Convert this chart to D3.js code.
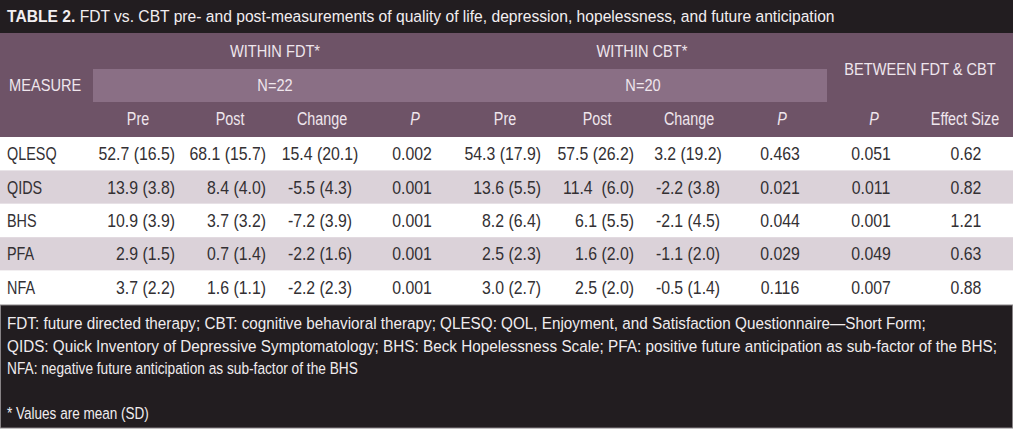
<!DOCTYPE html>
<html>
<head>
<meta charset="utf-8">
<script src="https://cdn.jsdelivr.net/npm/d3@7"></script>
<style>
  body { margin: 0; background: #ffffff; }
  svg text { font-family: "Liberation Sans", Arial, sans-serif; }
</style>
</head>
<body>
<div id="chart"></div>
<script>
var width = 1024, height = 432;

// table content
var title = "FDT vs. CBT pre- and post-measurements of quality of life, depression, hopelessness, and future anticipation";
var measures = ["QLESQ", "QIDS", "BHS", "PFA", "NFA"];
var fdtPre    = ["52.7 (16.5)", "13.9 (3.8)", "10.9 (3.9)", "2.9 (1.5)", "3.7 (2.2)"];
var fdtPost   = ["68.1 (15.7)", "8.4 (4.0)", "3.7 (3.2)", "0.7 (1.4)", "1.6 (1.1)"];
var fdtChange = ["15.4 (20.1)", "-5.5 (4.3)", "-7.2 (3.9)", "-2.2 (1.6)", "-2.2 (2.3)"];
var fdtP      = ["0.002", "0.001", "0.001", "0.001", "0.001"];
var cbtPre    = ["54.3 (17.9)", "13.6 (5.5)", "8.2 (6.4)", "2.5 (2.3)", "3.0 (2.7)"];
var cbtPost   = ["57.5 (26.2)", "11.4  (6.0)", "6.1 (5.5)", "1.6 (2.0)", "2.5 (2.0)"];
var cbtChange = ["3.2 (19.2)", "-2.2 (3.8)", "-2.1 (4.5)", "-1.1 (2.0)", "-0.5 (1.4)"];
var cbtP      = ["0.463", "0.021", "0.044", "0.029", "0.116"];
var betweenP  = ["0.051", "0.011", "0.001", "0.049", "0.007"];
var effectSize = ["0.62", "0.82", "1.21", "0.63", "0.88"];
var colLabels = ["Pre", "Post", "Change", "P", "Pre", "Post", "Change", "P", "P", "Effect Size"];
var footLines = [
    "FDT: future directed therapy; CBT: cognitive behavioral therapy; QLESQ: QOL, Enjoyment, and Satisfaction Questionnaire\u2014Short Form;",
    "QIDS: Quick Inventory of Depressive Symptomatology; BHS: Beck Hopelessness Scale; PFA: positive future anticipation as sub-factor of the BHS;",
    "NFA: negative future anticipation as sub-factor of the BHS",
    "",
    "* Values are mean (SD)"
];

var columns = [fdtPre, fdtPost, fdtChange, fdtP, cbtPre, cbtPost, cbtChange, cbtP, betweenP, effectSize];

// layout
var tableLeft = 0, tableRight = 1013;
var titleH = 33, headTop = 33, headBottom = 137, bodyBottom = 304;
var footTop = 305, footBottom = 428;
var narrow = 0.86;   // condensed look

var colKeys = d3.range(columns.length);
var headX = d3.scaleOrdinal().domain(colKeys)
    .range([138, 230, 322, 415, 505, 597, 689, 782, 874, 965]);
var valX = d3.scaleOrdinal().domain(colKeys)
    .range([175, 266, 320, 412, 541, 634, 688, 780, 871, 966]);
var valAnchor = ["end", "end", "middle", "middle", "end", "end", "middle", "middle", "middle", "middle"];

var y = d3.scaleBand().domain(measures).range([headBottom, bodyBottom]);

var svg = d3.select("#chart").append("svg")
    .attr("width", width)
    .attr("height", height);

function place(x, yy, sx) {
    return "translate(" + x + "," + yy + ") scale(" + sx + ",1)";
}

// squeeze a text so that it spans the given width
function fitTo(sel, target) {
    sel.each(function () {
        var w = this.getComputedTextLength();
        if (w > 0) {
            var m = /translate\(([^,]+),([^)]+)\)/.exec(this.getAttribute("transform"));
            d3.select(this).attr("transform", place(+m[1], +m[2], target / w));
        }
    });
}

// title band
svg.append("rect")
    .attr("x", tableLeft).attr("y", 0)
    .attr("width", tableRight - tableLeft).attr("height", titleH)
    .attr("fill", "#221d20");

var t = svg.append("text")
    .attr("transform", place(7, 22, 1))
    .attr("fill", "#f2eef0")
    .style("font-size", "16.5px");
t.append("tspan").style("font-weight", "bold").text("TABLE 2. ");
t.append("tspan").text(title);
fitTo(t, 828);

// header band
svg.append("rect")
    .attr("x", tableLeft).attr("y", headTop)
    .attr("width", tableRight - tableLeft).attr("height", headBottom - headTop)
    .attr("fill", "#6e5367");

svg.append("rect")
    .attr("x", 93).attr("y", 69)
    .attr("width", 827 - 93).attr("height", 102 - 69)
    .attr("fill", "#8a6f85");

var headColor = "#efe6ed";
var groupLabels = [
    { text: "WITHIN FDT*", x: 275, y: 57 },
    { text: "WITHIN CBT*", x: 642, y: 57 },
    { text: "N=22", x: 275, y: 91 },
    { text: "N=20", x: 643, y: 91 },
    { text: "BETWEEN FDT & CBT", x: 920, y: 75 }
];
svg.selectAll(".group")
    .data(groupLabels)
    .join("text")
    .attr("class", "group")
    .attr("transform", d => place(d.x, d.y, 0.86))
    .attr("text-anchor", "middle")
    .attr("fill", headColor)
    .style("font-size", "17px")
    .text(d => d.text);

svg.append("text")
    .attr("transform", place(9, 91, 0.86))
    .attr("fill", headColor)
    .style("font-size", "17px")
    .text("MEASURE");

svg.selectAll(".colhead")
    .data(colLabels)
    .join("text")
    .attr("class", "colhead")
    .attr("transform", (d, i) => place(headX(i), 125, 0.82))
    .attr("text-anchor", "middle")
    .attr("fill", headColor)
    .style("font-size", "17.5px")
    .style("font-style", d => d === "P" ? "italic" : null)
    .text(d => d);

// body rows
svg.selectAll(".rowbg")
    .data(measures)
    .join("rect")
    .attr("class", "rowbg")
    .attr("x", tableLeft)
    .attr("y", d => y(d))
    .attr("width", tableRight - tableLeft)
    .attr("height", y.bandwidth())
    .attr("fill", (d, i) => i % 2 ? "#dbd2d9" : "#ffffff");

svg.selectAll(".rowlabel")
    .data(measures)
    .join("text")
    .attr("class", "rowlabel")
    .attr("transform", d => place(7, y(d) + y.bandwidth() / 2 + 6.5, 0.8))
    .attr("fill", "#333033")
    .style("font-size", "18px")
    .text(d => d);

var cells = [];
columns.forEach(function (col, ci) {
    col.forEach(function (v, ri) {
        cells.push({ col: ci, measure: measures[ri], value: v });
    });
});

svg.selectAll(".cell")
    .data(cells)
    .join("text")
    .attr("class", "cell")
    .attr("transform", d => place(valX(d.col), y(d.measure) + y.bandwidth() / 2 + 6.5, 0.88))
    .attr("text-anchor", d => valAnchor[d.col])
    .attr("fill", "#333033")
    .style("font-size", "18px")
    .attr("xml:space", "preserve")
    .text(d => d.value);

// footnote box
svg.append("rect")
    .attr("x", tableLeft + 0.5).attr("y", footTop)
    .attr("width", tableRight - tableLeft - 1).attr("height", footBottom - footTop)
    .attr("fill", "#221d20")
    .attr("stroke", "#888386")
    .attr("stroke-width", 1);

var footWidths = [920, 991, 351, 0, 142];
svg.selectAll(".foot")
    .data(footLines)
    .join("text")
    .attr("class", "foot")
    .attr("transform", (d, i) => place(7, 329 + i * 22.5, 1))
    .attr("fill", "#f0ecee")
    .style("font-size", "16.5px")
    .text(d => d)
    .each(function (d, i) { if (footWidths[i]) fitTo(d3.select(this), footWidths[i]); });
</script>
</body>
</html>
